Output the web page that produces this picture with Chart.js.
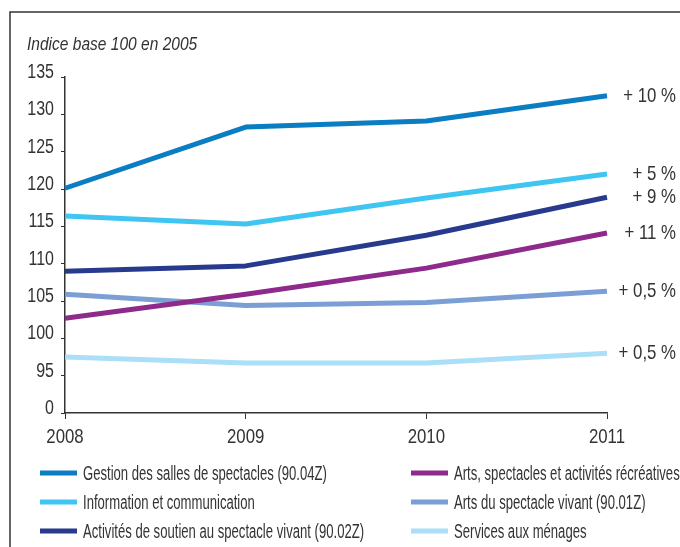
<!DOCTYPE html>
<html>
<head>
<meta charset="utf-8">
<script src="https://cdn.jsdelivr.net/npm/chart.js@4.4.1/dist/chart.umd.min.js"></script>
<style>
  body { margin: 0; background: #fff; }
  #wrap { position: relative; width: 680px; height: 547px; }
</style>
</head>
<body>
<div id="wrap"><canvas id="chart"></canvas></div>
<script>
// years on the x axis
const years = ['2008', '2009', '2010', '2011'];

// index values, base 100 in 2005
const gestionSalles = [120.1, 128.3, 129.1, 132.5];
const information = [116.4, 115.3, 118.8, 122.0];
const soutienSpectacle = [109.0, 109.7, 113.8, 118.9];
const artsRecreatives = [102.7, 105.9, 109.4, 114.1];
const spectacleVivant = [105.9, 104.4, 104.8, 106.3];
const servicesMenages = [97.5, 96.7, 96.7, 98.0];

const seriesLabels = [
    'Gestion des salles de spectacles (90.04Z)',
    'Information et communication',
    'Activités de soutien au spectacle vivant (90.02Z)',
    'Arts, spectacles et activités récréatives',
    'Arts du spectacle vivant (90.01Z)',
    'Services aux ménages'
];
const seriesColors = ['#0b7dc2', '#3ec5f1', '#283a8d', '#8e2a8b', '#7b9fd5', '#aadff7'];
const changeLabels = ['+ 10 %', '+ 5 %', '+ 9 %', '+ 11 %', '+ 0,5 %', '+ 0,5 %'];

// y axis is broken: the lowest tick (90 on the scale) is shown as 0
const yTicks = [90, 95, 100, 105, 110, 115, 120, 125, 130, 135];
const yTickLabels = ['0', '95', '100', '105', '110', '115', '120', '125', '130', '135'];

const FONT = "'Liberation Sans', Arial, sans-serif";
const INK = '#333333';

// the original uses a narrow font, so text is squeezed horizontally
function narrowText(ctx, text, x, y, size, squeeze, align, italic) {
    ctx.save();
    ctx.font = (italic ? 'italic ' : '') + size + 'px ' + FONT;
    ctx.fillStyle = INK;
    ctx.textAlign = align;
    ctx.textBaseline = 'alphabetic';
    ctx.translate(x, y);
    ctx.scale(squeeze, 1);
    ctx.fillText(text, 0, 0);
    ctx.restore();
}

const allSeries = [gestionSalles, information, soutienSpectacle, artsRecreatives, spectacleVivant, servicesMenages];

const datasets = allSeries.map((values, i) => ({
    label: seriesLabels[i],
    data: values,
    borderColor: seriesColors[i],
    backgroundColor: seriesColors[i],
    borderWidth: 5,
    pointRadius: 0,
    tension: 0,
    borderJoinStyle: 'round',
    borderCapStyle: 'butt'
}));

const decorations = {
    id: 'decorations',
    beforeDraw(chart) {
        const ctx = chart.ctx;
        ctx.save();
        // frame (top and left edge)
        ctx.strokeStyle = INK;
        ctx.lineWidth = 1.5;
        ctx.beginPath();
        ctx.moveTo(10, 547);
        ctx.lineTo(10, 12);
        ctx.lineTo(680, 12);
        ctx.stroke();
        ctx.restore();
        narrowText(ctx, 'Indice base 100 en 2005', 27, 50, 18.5, 0.84, 'left', true);
    },
    afterDraw(chart) {
        const ctx = chart.ctx;
        const xs = chart.scales.x, ys = chart.scales.y;

        // tick labels
        ys.ticks.forEach((t, i) => {
            const label = yTickLabels[yTicks.indexOf(t.value)];
            narrowText(ctx, label, 54, ys.getPixelForTick(i) + 1, 20.5, 0.78, 'right');
        });
        xs.ticks.forEach((t, i) => {
            narrowText(ctx, years[i], xs.getPixelForTick(i), 443, 21, 0.8, 'center');
        });

        // change labels at line ends
        chart.data.datasets.forEach((ds, i) => {
            const meta = chart.getDatasetMeta(i);
            const last = meta.data[meta.data.length - 1];
            narrowText(ctx, changeLabels[i], 676, last.y + 6, 21, 0.8, 'right');
        });

        // legend in two columns
        chart.data.datasets.forEach((ds, i) => {
            const col = Math.floor(i / 3);
            const row = i % 3;
            const x = col === 0 ? 40 : 411;
            const y = 473 + row * 29;
            ctx.save();
            ctx.strokeStyle = ds.borderColor;
            ctx.lineWidth = 5;
            ctx.beginPath();
            ctx.moveTo(x, y);
            ctx.lineTo(x + 37, y);
            ctx.stroke();
            ctx.restore();
            narrowText(ctx, ds.label, x + 43, y + 7, 20, 0.655, 'left');
        });
    }
};

new Chart(document.getElementById('chart'), {
    type: 'line',
    data: { labels: years, datasets: datasets },
    options: {
        responsive: true,
        maintainAspectRatio: false,
        animation: false,
        layout: { padding: { left: 0, right: 73, top: 77, bottom: 104 } },
        plugins: {
            legend: { display: false },
            tooltip: { enabled: false }
        },
        scales: {
            x: {
                type: 'category',
                offset: false,
                afterFit(scale) { scale.height = 30; },
                grid: { drawOnChartArea: false, drawTicks: true, tickLength: 6, color: INK },
                border: { display: true, color: INK, width: 1.5 },
                ticks: { display: false }
            },
            y: {
                min: 90,
                max: 135,
                afterFit(scale) { scale.width = 65; },
                afterBuildTicks(scale) { scale.ticks = yTicks.map(v => ({ value: v })); },
                grid: { drawOnChartArea: false, drawTicks: true, tickLength: 4, color: INK },
                border: { display: true, color: INK, width: 1.5 },
                ticks: { display: false }
            }
        }
    },
    plugins: [decorations]
});
</script>
</body>
</html>
